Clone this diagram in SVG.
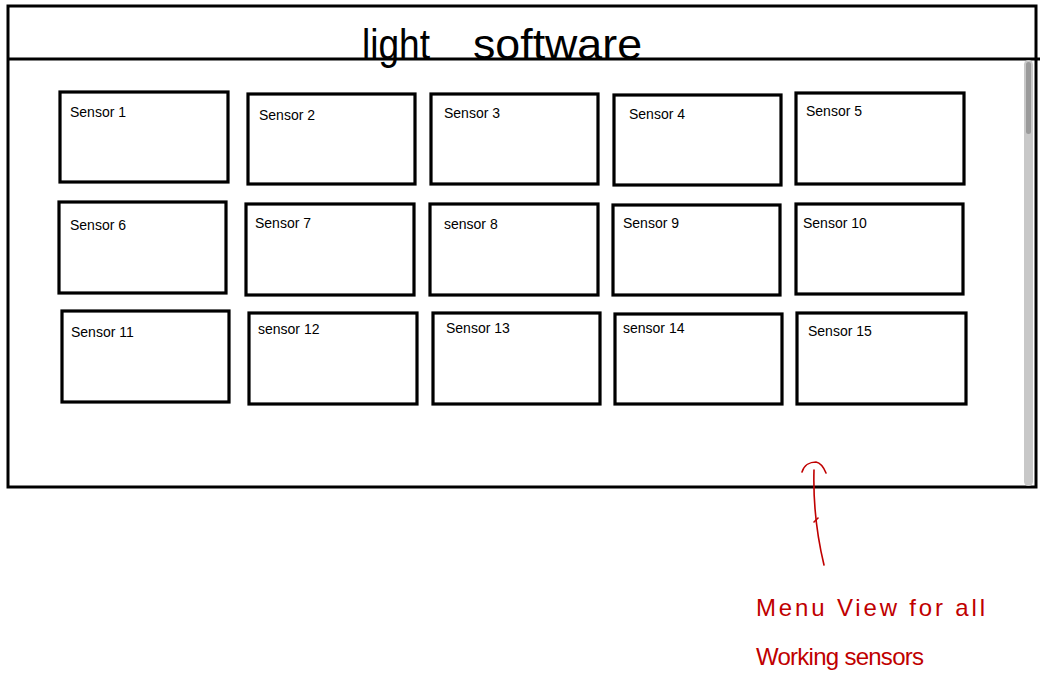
<svg xmlns="http://www.w3.org/2000/svg" width="1054" height="682" viewBox="0 0 1054 682">
<style>
.frame{fill:#fff;stroke:#000;stroke-width:3}
.box{fill:#fff;stroke:#000;stroke-width:3.2}
.lbl{font-family:"Liberation Sans",Arial,sans-serif;font-size:14px;fill:#000}
.title{font-family:"Liberation Sans",Arial,sans-serif;font-size:42px;fill:#000}
.note{font-family:"Liberation Sans",Arial,sans-serif;font-size:24px;fill:#c00000}
.arrow{fill:none;stroke:#c00000;stroke-width:1.6;stroke-linecap:round;stroke-linejoin:round}
</style>
<rect width="1054" height="682" fill="#fff"/>
<g id="window">
<rect class="frame" x="8" y="6" width="1028" height="481"/>
<line x1="8" y1="59" x2="1040" y2="59" stroke="#000" stroke-width="3"/>
<rect x="1024" y="60" width="9" height="426" rx="4.5" fill="#c8c8c8"/>
<rect x="1026" y="62" width="5" height="72" rx="2.5" fill="#9a9a9a"/>
<text class="title" x="362" y="59" textLength="68" lengthAdjust="spacingAndGlyphs">light</text>
<text class="title" x="473" y="59" textLength="169" lengthAdjust="spacingAndGlyphs">software</text>
</g>
<g id="sensor1"><rect class="box" x="60" y="92" width="168" height="90"/><text class="lbl" x="70" y="117">Sensor 1</text></g>
<g id="sensor2"><rect class="box" x="248" y="94" width="167" height="90"/><text class="lbl" x="259" y="120">Sensor 2</text></g>
<g id="sensor3"><rect class="box" x="431" y="94" width="167" height="90"/><text class="lbl" x="444" y="118">Sensor 3</text></g>
<g id="sensor4"><rect class="box" x="614" y="95" width="167" height="90"/><text class="lbl" x="629" y="119">Sensor 4</text></g>
<g id="sensor5"><rect class="box" x="796" y="93" width="168" height="91"/><text class="lbl" x="806" y="116">Sensor 5</text></g>
<g id="sensor6"><rect class="box" x="59" y="202" width="167" height="91"/><text class="lbl" x="70" y="230">Sensor 6</text></g>
<g id="sensor7"><rect class="box" x="246" y="204" width="168" height="91"/><text class="lbl" x="255" y="228">Sensor 7</text></g>
<g id="sensor8"><rect class="box" x="430" y="204" width="168" height="91"/><text class="lbl" x="444" y="229">sensor 8</text></g>
<g id="sensor9"><rect class="box" x="613" y="205" width="167" height="90"/><text class="lbl" x="623" y="228">Sensor 9</text></g>
<g id="sensor10"><rect class="box" x="796" y="204" width="167" height="90"/><text class="lbl" x="803" y="228">Sensor 10</text></g>
<g id="sensor11"><rect class="box" x="62" y="311" width="167" height="91"/><text class="lbl" x="71" y="337">Sensor 11</text></g>
<g id="sensor12"><rect class="box" x="249" y="313" width="168" height="91"/><text class="lbl" x="258" y="334">sensor  12</text></g>
<g id="sensor13"><rect class="box" x="433" y="313" width="167" height="91"/><text class="lbl" x="446" y="333">Sensor 13</text></g>
<g id="sensor14"><rect class="box" x="615" y="314" width="167" height="90"/><text class="lbl" x="623" y="333">sensor 14</text></g>
<g id="sensor15"><rect class="box" x="797" y="313" width="169" height="91"/><text class="lbl" x="808" y="336">Sensor 15</text></g>
<g id="connectors">
<path class="arrow" d="M824,565 C818,540 813,505 814,470"/>
<path class="arrow" d="M802,472 C804,465 810,462 816,462 C821,463 824,468 826,473"/>
<path class="arrow" d="M814,522 L818,518"/>
</g>
<g id="annotation">
<text class="note" x="756" y="616" textLength="229" lengthAdjust="spacing">Menu View for all</text>
<text class="note" x="756" y="665" textLength="168" lengthAdjust="spacing">Working sensors</text>
</g>
</svg>
